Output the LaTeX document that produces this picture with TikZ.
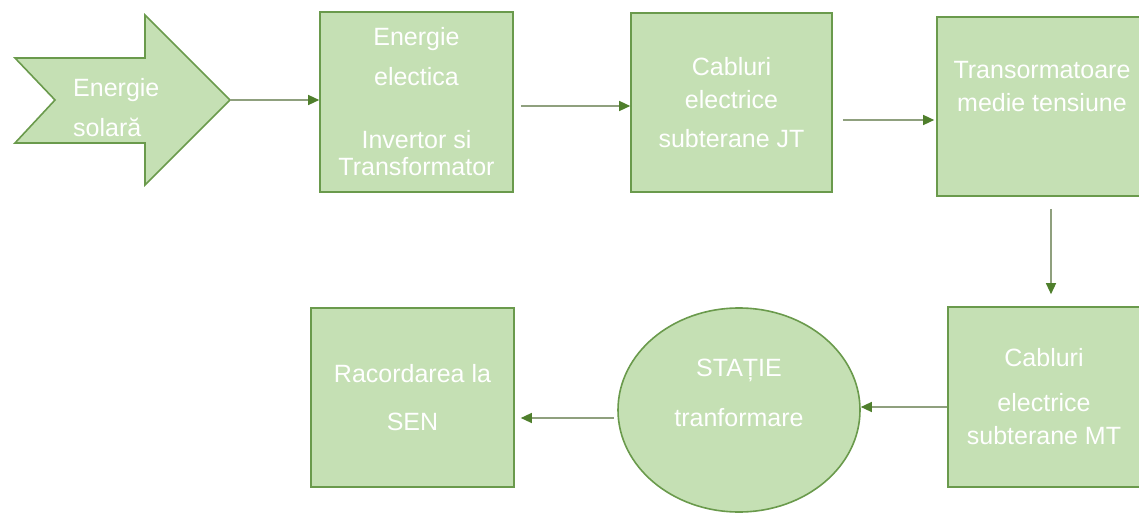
\documentclass[tikz,border=0pt]{standalone}
\usepackage{fontspec}
\setmainfont{Liberation Sans}
\usetikzlibrary{positioning,shapes.geometric,arrows.meta}

\definecolor{boxfill}{HTML}{C5E0B4}
\definecolor{boxline}{HTML}{6A9A4C}
\definecolor{linkline}{HTML}{8FA07E}
\definecolor{tipgreen}{HTML}{4F7F2C}

\tikzset{
  stage/.style={rectangle, draw=boxline, fill=boxfill, line width=1.6pt, inner sep=0pt,
    text=white, align=center, font=\fontsize{25}{34}\selectfont},
  words/.style={text=white, align=center, inner sep=0pt, font=\fontsize{25}{34}\selectfont},
  link/.style={draw=linkline, line width=1.3pt, -{Triangle[length=11pt,width=10pt,color=tipgreen]}},
}

\begin{document}
\begin{tikzpicture}[x=1pt,y=-1pt]
    \useasboundingbox (0,0) rectangle (1139,513);

    % the notched arrow
    \draw[fill=boxfill, draw=boxline, line width=1.6pt, line join=miter]
        (15,58) -- (145,58) -- (145,15) -- (230,100) -- (145,185) -- (145,143) -- (15,143) -- (55,100) -- cycle;
    \coordinate (soltip) at (230,100);
    \node[words, align=left, anchor=west] (solar) at (73,108) {Energie\\[6pt]solară};

    % top row
    \node[stage, minimum width=193, minimum height=180] (inverter) at (416.5,102)
        {Energie\\[6pt]electica\\[29pt]Invertor si\\[-7pt]Transformator};
    \node[stage, minimum width=201, minimum height=179] (cablejt) at (731.5,102.5)
        {Cabluri\\[-1pt]electrice\\[5pt]subterane JT};
    \node[stage, minimum width=210, minimum height=179] (trafo) at (1042,106.5) {};
    \node[words] (trafotext) at (1042,87) {Transormatoare\\[-1pt]medie tensiune};

    % bottom row
    \node[stage, minimum width=192, minimum height=180] (cablemt) at (1044,397)
        {Cabluri\\[11pt]electrice\\[-1pt]subterane MT};
    \node[ellipse, draw=boxline, fill=boxfill, line width=1.6pt, inner sep=0pt,
        minimum width=242, minimum height=204] (station) at (739,410) {};
    \node[words] (stationtext) at (739,393) {STAȚIE\\[16pt]tranformare};
    \node[stage, minimum width=203, minimum height=179] (sen) at (412.5,397.5)
        {Racordarea la\\[14pt]SEN};

    \coordinate (l1) at ([yshift=-4pt]inverter.east);
    \coordinate (l2) at ([yshift=-17.5pt]cablejt.east);
    \coordinate (l3) at ([xshift=9pt]trafo.south);
    \coordinate (l4) at ([yshift=-10pt]cablemt.west);
    \coordinate (l5) at ([yshift=-8pt]station.west);

    \path
        (soltip) edge[link] (soltip -| inverter.west)
        (l1) edge[link, shorten <=7pt] (l1 -| cablejt.west)
        (l2) edge[link, shorten <=10pt, shorten >=2pt] (l2 -| trafo.west)
        (l3) edge[link, shorten <=12pt, shorten >=12pt] (l3 |- cablemt.north)
        (l4) edge[link] (l4 -| station.east)
        (l5) edge[link, shorten <=3pt, shorten >=6pt] (l5 -| sen.east)
        ;
\end{tikzpicture}
\end{document}
